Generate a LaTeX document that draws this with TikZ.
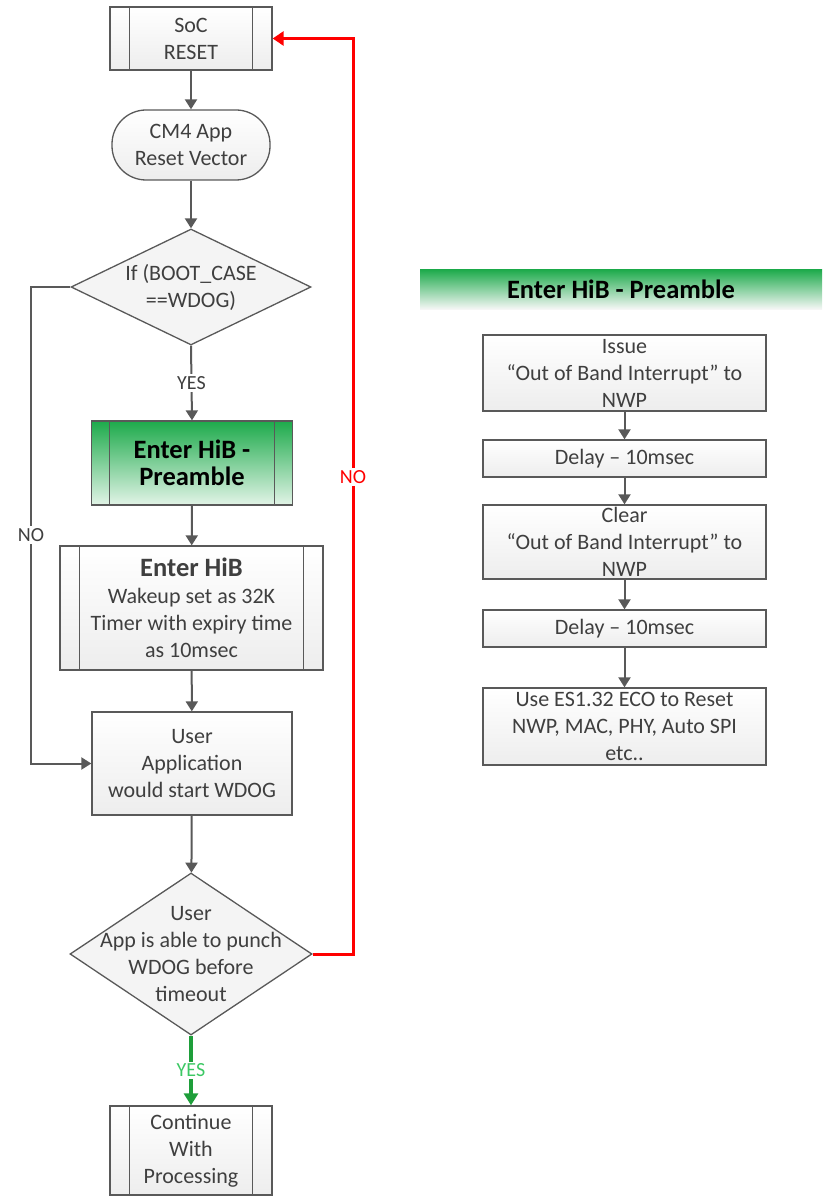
\documentclass[tikz,border=0pt]{standalone}
\usepackage{fontspec}
\setmainfont{Carlito}
\usepackage{tikz}
\usetikzlibrary{positioning, shapes.geometric, arrows.meta}
\definecolor{boxline}{HTML}{595959}
\definecolor{txtgray}{HTML}{3F3F3F}
\definecolor{hibgreen}{HTML}{1DAA4B}
\definecolor{hibpale}{HTML}{E2F4E7}
\definecolor{yesgreen}{HTML}{1E9E3A}
\definecolor{yestext}{HTML}{3CC864}
\newcommand{\sidebars}[2]{%
  \draw[boxline, line width=1pt] ([xshift=#2]#1.north west) -- ([xshift=#2]#1.south west)
    ([xshift=-#2]#1.north east) -- ([xshift=-#2]#1.south east);}
\newcommand{\bigbold}{\fontsize{26.5}{31}\selectfont\bfseries}

\begin{document}
\begin{tikzpicture}[
  x=1pt, y=-1pt,
  font=\fontsize{22}{27}\selectfont, text=txtgray,
  box/.style={draw=boxline, line width=1.3pt, top color=white, bottom color=gray!14,
    align=center, inner sep=1pt},
  decide/.style={diamond, draw=boxline, line width=1.3pt, fill=gray!9, inner sep=0pt},
  greenbox/.style={box, top color=hibgreen, bottom color=hibpale, text=black},
  flow/.style={draw=boxline, line width=2pt, -{Triangle[length=10pt,width=12pt]}},
  lbl/.style={fill=white, inner sep=2pt, font=\fontsize{20}{24}\selectfont},
]
  \useasboundingbox (0,0) rectangle (822,1198);

  % Main flow
  \node[box, minimum width=162, minimum height=63] (soc) at (191,38.5) {SoC\\RESET};
  \node[box, rounded corners=34pt, minimum width=158, minimum height=70] (cm4) at (191,145)
    {CM4 App\\Reset Vector};
  \node[decide, minimum width=240, minimum height=116,
    label={[align=center, text=txtgray]center:If (BOOT\_CASE\\==WDOG)}] (boot) at (191,287) {};
  \node[greenbox, minimum width=201, minimum height=84] (pre) at (192,463)
    {\bigbold Enter HiB -\\\bigbold Preamble};
  \node[box, minimum width=263, minimum height=124] (hib) at (191.5,608)
    {{\bigbold Enter HiB}\\Wakeup set as 32K\\Timer with expiry time\\as 10msec};
  \node[box, minimum width=200, minimum height=103] (user) at (192,763.5)
    {User\\Application\\would start WDOG};
  \node[decide, minimum width=242, minimum height=162,
    label={[align=center, text=txtgray]center:User\\App is able to punch\\WDOG before\\timeout}]
    (punch) at (191,954) {};
  \node[box, minimum width=162, minimum height=89] (cont) at (191,1150.5)
    {Continue\\With\\Processing};
  \sidebars{soc}{20pt}
  \sidebars{pre}{19pt}
  \sidebars{hib}{20pt}
  \sidebars{cont}{20pt}

  \draw[flow] (soc) -- (cm4);
  \draw[flow] (cm4) -- (boot);
  \draw[flow] (boot.south) -- node[lbl] {YES} (pre.north);
  \draw[flow] (pre) -- (hib);
  \draw[flow] (hib) -- (user);
  \draw[flow] (user) -- (punch);

  % NO branches
  \coordinate (noleft) at (31,535);
  \coordinate (noright) at (353,477);
  \draw[flow] (boot.west) -| (noleft) |- (user.west);
  \node[lbl] (nol) at (noleft) {NO};
  \draw[red, line width=3pt, -{Triangle[length=11pt,width=14pt]}]
    (punch.east) -| (noright) |- (soc.east);
  \node[lbl, text=red] (nor) at (noright) {NO};
  \draw[yesgreen, line width=4pt, -{Triangle[length=12pt,width=14pt]}]
    (punch.south) -- node[lbl, text=yestext] {YES} (cont.north);

  % Preamble detail
  \node[top color=hibgreen, bottom color=gray!6, text=black, minimum width=402,
    minimum height=40, inner sep=0pt] (banner) at (621,289.5)
    {\bigbold Enter HiB - Preamble};
  \node[box, minimum width=283, minimum height=76] (issue) at (624.5,373)
    {Issue\\``Out of Band Interrupt'' to\\NWP};
  \node[box, minimum width=283, minimum height=37] (delay1) at (624.5,458.5) {Delay -- 10msec};
  \node[box, minimum width=283, minimum height=74] (clear) at (624.5,542)
    {Clear\\``Out of Band Interrupt'' to\\NWP};
  \node[box, minimum width=283, minimum height=37] (delay2) at (624.5,628.5) {Delay -- 10msec};
  \node[box, minimum width=283, minimum height=77] (eco) at (624.5,726.5)
    {Use ES1.32 ECO to Reset\\NWP, MAC, PHY, Auto SPI\\etc..};
  \draw[flow] (issue) -- (delay1);
  \draw[flow] (delay1) -- (clear);
  \draw[flow] (clear) -- (delay2);
  \draw[flow] (delay2) -- (eco);
\end{tikzpicture}
\end{document}
